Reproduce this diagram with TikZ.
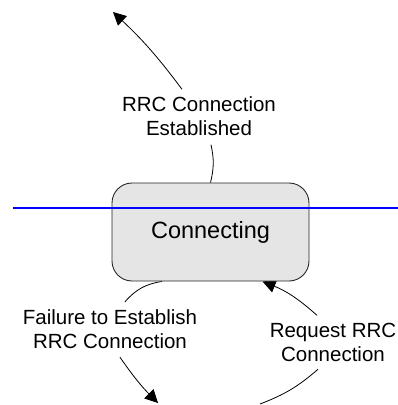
\documentclass[tikz,border=0pt]{standalone}
\usepackage{fontspec}
\setmainfont{Liberation Sans}
\usetikzlibrary{arrows.meta,backgrounds}

\begin{document}
\begin{tikzpicture}[x=1pt,y=1pt,
	state/.style={draw=black!85,fill=black!10,rounded corners=20pt,line width=0.9pt,minimum width=197pt,minimum height=98pt,font=\fontsize{23.5}{28}\selectfont},
	lbl/.style={align=center,inner sep=0pt,font=\fontsize{20.5}{24}\selectfont},
	trans/.style={line width=0.8pt},
	>={Triangle[length=13pt,width=13pt]}]
	\useasboundingbox (0,0) rectangle (398,-405);

	\node[state](conn) at (210.5,-232) {Connecting};

	\node[lbl](lblEst) at (199,-116) {RRC Connection\\Established};
	\node[lbl](lblFail) at (110,-329.5) {Failure to Establish\\RRC Connection};
	\node[lbl](lblReq) at (333,-342.8) {Request RRC\\Connection};

	\coordinate(tipTop) at (113,-12);
	\coordinate(tipFail) at (158,-403);
	\coordinate(startReq) at (260,-404);
	\coordinate(lineL) at (13,-208);
	\coordinate(lineR) at (398,-208);

	\begin{pgfonlayer}{background}
	\draw[trans](conn.north) to[bend right=13] ([shift={(12pt,-9pt)}]lblEst.south);
	\draw[trans,->]([shift={(-17pt,7pt)}]lblEst.north) to[bend right=5] (tipTop);
	\draw[trans]([xshift=-48.5pt]conn.south) to[bend right=20] ([shift={(15pt,8pt)}]lblFail.north);
	\draw[trans,->]([shift={(10pt,-8pt)}]lblFail.south) to[bend right=5] (tipFail);
	\draw[trans](startReq) to[bend right=10] ([shift={(-15pt,-7pt)}]lblReq.south);
	\draw[trans,->]([shift={(-16pt,8pt)}]lblReq.north) to[bend right=10] ([xshift=52pt]conn.south);
	\end{pgfonlayer}

	\draw[blue,line width=1.3pt](lineL) -- (lineR);
\end{tikzpicture}
\end{document}
